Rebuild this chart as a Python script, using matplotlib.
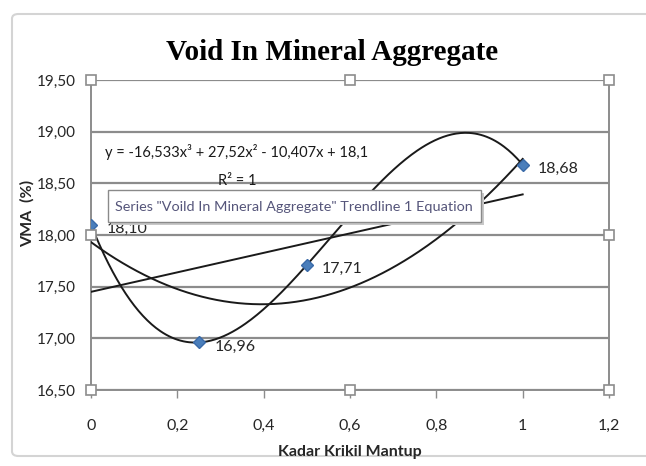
import numpy as np
import matplotlib
matplotlib.use("Agg")
import matplotlib.pyplot as plt
from matplotlib.patches import FancyBboxPatch, Rectangle
from matplotlib.ticker import FuncFormatter

plt.rcParams['font.family'] = ['Lato', 'DejaVu Sans']

# ---- data ----
x_vals = [0, 0.25, 0.5, 1]
vma_vals = [18.10, 16.96, 17.71, 18.68]
point_labels = ["18,10", "16,96", "17,71", "18,68"]
title = "Void In Mineral Aggregate"
x_label = "Kadar Krikil Mantup"
y_label = "VMA  (%)"
equation_text = "y = -16,533x³ + 27,52x² - 10,407x + 18,1"
r2_text = "R² = 1"
tooltip_text = 'Series "Voild In Mineral Aggregate" Trendline 1 Equation'
y_ticks = [16.5, 17.0, 17.5, 18.0, 18.5, 19.0, 19.5]
x_ticks = [0, 0.2, 0.4, 0.6, 0.8, 1.0, 1.2]

W, H = 646, 466
fig = plt.figure(figsize=(W / 100, H / 100), dpi=100)
fig.patch.set_facecolor('white')

# chart border
border = FancyBboxPatch((12 / W, 1 - 456 / H), 1.2, (456 - 14) / H,
                        boxstyle="round,pad=0,rounding_size=0.01",
                        transform=fig.transFigure, facecolor='none',
                        edgecolor='#d4d4d4', linewidth=1.5, zorder=-1)
fig.patches.append(border)

ax = fig.add_axes([91 / W, 1 - 390 / H, (609 - 91) / W, (390 - 80) / H])
ax.set_facecolor('none')
ax.set_xlim(0, 1.2)
ax.set_ylim(16.5, 19.5)
ax.set_xticks(x_ticks)
ax.set_yticks(y_ticks)

def comma_fmt(v, dec):
    if dec == 0:
        s = '%g' % round(v, 2)
    else:
        s = ('%.' + str(dec) + 'f') % v
    return s.replace('.', ',')

ax.yaxis.set_major_formatter(FuncFormatter(lambda v, p: comma_fmt(v, 2)))
ax.xaxis.set_major_formatter(FuncFormatter(lambda v, p: comma_fmt(v, 0)))
ax.tick_params(axis='y', length=0, pad=11, labelsize=11, labelcolor='#262626')
ax.tick_params(axis='x', length=6, width=1, color='#8c8c8c', pad=15,
               labelsize=11.5, labelcolor='#262626')

ax.grid(axis='y', color='#8c8c8c', linewidth=1.6)
ax.set_axisbelow(True)
for side in ['left', 'bottom', 'right']:
    ax.spines[side].set_color('#8c8c8c')
    ax.spines[side].set_linewidth(1.4)
ax.spines['top'].set_visible(False)

# trendlines fitted from data
xs = np.linspace(0, 1, 300)
for deg in (1, 2, 3):
    coef = np.polyfit(x_vals, vma_vals, deg)
    ax.plot(xs, np.polyval(coef, xs), color='#1a1a1a', linewidth=1.4, zorder=3)

# data points
ax.plot(x_vals, vma_vals, linestyle='none', marker='D', markersize=6.5,
        color='#4a7ebb', markeredgecolor='#3a6aa8', zorder=5)
for xv, yv, lab in zip(x_vals, vma_vals, point_labels):
    ax.annotate(lab, (xv, yv), xytext=(11, -3), textcoords='offset points',
                ha='left', va='center', fontsize=11.5, color='#262626', zorder=4)

# equation labels
fig.text(105 / W, 1 - 152 / H, equation_text,
         ha='left', va='center', fontsize=10.5, color='#1a1a1a', zorder=6)
fig.text(237 / W, 1 - 181 / H, r2_text,
         ha='center', va='center', fontsize=10.5, color='#1a1a1a', zorder=6)

# tooltip box with shadow
shadow = Rectangle((111 / W, 1 - 225 / H), (481 - 108) / W, (222 - 190) / H,
                   transform=fig.transFigure, facecolor='#c8c8c8',
                   edgecolor='none', zorder=7)
fig.patches.append(shadow)
tip = Rectangle((108 / W, 1 - 222 / H), (481 - 108) / W, (222 - 190) / H,
                transform=fig.transFigure, facecolor='white',
                edgecolor='#8a8a8a', linewidth=1.0, zorder=8)
fig.patches.append(tip)
fig.text(115 / W, 1 - 207 / H, tooltip_text, ha='left', va='center',
         fontsize=10.4, color='#55557a', zorder=9)

# selection handles
for hx, hy in [(0, 1), (0.5, 1), (1, 1), (1, 0.5), (0, 0.5), (0, 0), (0.5, 0), (1, 0)]:
    ax.plot(hx, hy, marker='s', markersize=7, markerfacecolor='white',
            markeredgecolor='#8c8c8c', markeredgewidth=1.2,
            transform=ax.transAxes, clip_on=False, zorder=10)

# titles
fig.text(332 / W, 1 - 52 / H, title, ha='center', va='center',
         fontsize=21, fontweight='bold', family=['Liberation Serif', 'DejaVu Serif'],
         color='black')
fig.text(27 / W, 1 - 213 / H, y_label, rotation=90, ha='center', va='center',
         fontsize=11.5, fontweight='bold', color='#262626')
fig.text(350 / W, 1 - 452 / H, x_label, ha='center', va='center',
         fontsize=11.5, fontweight='bold', color='#262626')

fig.savefig('out.png', dpi=100)
